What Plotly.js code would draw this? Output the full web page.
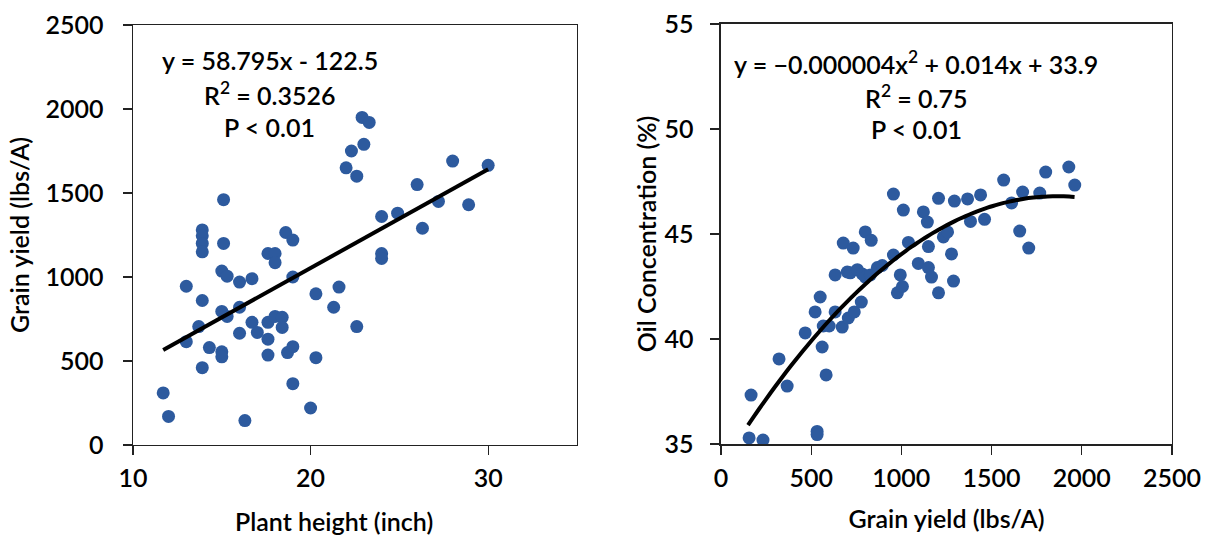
<!DOCTYPE html>
<html>
<head>
<meta charset="utf-8">
<script src="https://cdn.plot.ly/plotly-3.0.1.min.js"></script>
<style>html,body{margin:0;padding:0;background:#fff;}#chart{width:1206px;height:538px;}</style>
</head>
<body>
<div id="chart"></div>
<script>
// Left panel: plant height (inch) vs grain yield (lbs/A)
const plantHeight = [22.9, 23.3, 23.0, 22.3, 22.0, 22.6, 28.0, 30.0, 26.0, 27.2, 28.9, 24.0, 24.9, 26.3, 24.0, 24.0,
  18.6, 19.0, 17.6, 18.0, 18.0, 16.7, 16.0, 19.0, 20.3, 21.6, 15.1, 13.9, 13.9, 13.9, 13.9, 15.1,
  15.0, 15.3, 13.0, 13.9, 15.0, 15.3, 16.0, 13.7, 13.0, 14.3, 15.0, 15.0, 16.0, 16.7, 17.0, 17.6,
  18.0, 18.4, 18.4, 17.6, 17.6, 18.7, 19.0, 21.3, 20.3, 13.9, 19.0, 11.7, 12.0, 16.3, 20.0, 22.6];
const grainYieldL = [1950, 1920, 1790, 1750, 1650, 1600, 1690, 1665, 1550, 1450, 1430, 1360, 1380, 1290, 1140, 1110,
  1265, 1220, 1140, 1140, 1085, 990, 970, 1000, 900, 940, 1460, 1280, 1245, 1200, 1150, 1200,
  1035, 1005, 945, 860, 795, 765, 820, 705, 615, 580, 555, 525, 665, 730, 670, 730,
  765, 760, 700, 630, 535, 550, 585, 820, 520, 460, 365, 310, 170, 145, 220, 705];

// Right panel: grain yield (lbs/A) vs oil concentration (%)
const grainYieldR = [167, 156, 233, 533, 533, 322, 367, 467, 522, 550, 561, 583, 567, 600, 633, 672, 706, 739, 778,
  633, 678, 733, 700, 717, 756, 783, 800, 828, 867, 894, 956, 994, 978, 1006, 1039, 1094, 1150, 1150, 1167,
  1206, 1278, 1289, 800, 833, 1233, 1256, 956, 1011, 1122, 1144, 1206, 1294, 1367, 1439, 1567, 1672, 1767,
  1800, 1928, 1961, 1611, 1383, 1461, 1656, 1706];
const oilConc = [37.33, 35.29, 35.19, 35.6, 35.45, 39.05, 37.76, 40.29, 41.29, 42.0, 39.62, 38.29, 40.62, 40.62, 41.29, 40.57, 41.0, 41.29, 41.76,
  43.05, 44.57, 44.33, 43.19, 43.15, 43.3, 43.1, 42.95, 43.05, 43.4, 43.5, 44.0, 43.05, 42.2, 42.5, 44.6, 43.6, 44.4, 43.4, 42.95,
  42.2, 44.05, 42.76, 45.1, 44.7, 44.86, 45.1, 46.9, 46.14, 46.05, 45.57, 46.7, 46.57, 46.67, 46.86, 47.57, 47.0, 46.95,
  47.95, 48.19, 47.33, 46.48, 45.6, 45.7, 45.14, 44.33];

// Trendline coefficients (as fitted in the figure)
const linCoef = [-122.5, 58.795];           // intercept, slope
const linSpan = [11.7, 30];
const quadCoef = [33.904, 0.013863, -0.000003726]; // c0, c1, c2
const quadSpan = [150, 1960];

const leftLabels = ['y = 58.795x - 122.5', 'R<sup>2</sup> = 0.3526', 'P < 0.01'];
const rightLabels = ['y = \u22120.000004x<sup>2</sup> + 0.014x + 33.9', 'R<sup>2</sup> = 0.75', 'P < 0.01'];
const leftXTitle = 'Plant height (inch)';

const linX = linSpan.slice();
const linY = linX.map(x => linCoef[0] + linCoef[1] * x);
const quadX = [];
for (let i = 0; i <= 60; i++) quadX.push(quadSpan[0] + (quadSpan[1] - quadSpan[0]) * i / 60);
const quadY = quadX.map(x => quadCoef[0] + quadCoef[1] * x + quadCoef[2] * x * x);

const FONT = 'Lato, "Open Sans", sans-serif';
const dotColor = '#2D5A9E';
const marker = {color: dotColor, size: 13, line: {width: 0}};

const traces = [
  {x: plantHeight, y: grainYieldL, type: 'scatter', mode: 'markers', marker: marker, xaxis: 'x', yaxis: 'y'},
  {x: linX, y: linY, type: 'scatter', mode: 'lines', line: {color: '#000', width: 4}, xaxis: 'x', yaxis: 'y'},
  {x: grainYieldR, y: oilConc, type: 'scatter', mode: 'markers', marker: marker, xaxis: 'x2', yaxis: 'y2'},
  {x: quadX, y: quadY, type: 'scatter', mode: 'lines', line: {color: '#000', width: 4, shape: 'spline'}, xaxis: 'x2', yaxis: 'y2'}
];

const tickFont = {family: FONT, size: 25, color: '#000', weight: 600};
const titleFont = {family: FONT, size: 25, color: '#000', weight: 600};
const annFont = {family: FONT, size: 25, color: '#000', weight: 600};

const axisBase = {
  showline: true, linecolor: '#222', linewidth: 1.5, mirror: true,
  showgrid: false, zeroline: false,
  ticks: 'outside', ticklen: 9, tickwidth: 1.2, tickcolor: '#222',
  tickfont: tickFont,
  fixedrange: true
};

const layout = {
  width: 1206, height: 538,
  margin: {l: 0, r: 0, t: 0, b: 0},
  paper_bgcolor: '#fff', plot_bgcolor: '#fff',
  showlegend: false,
  xaxis: Object.assign({}, axisBase, {domain: [0.1103, 0.4784], range: [10, 35], tickvals: [10, 20, 30], ticklabelstandoff: 2, anchor: 'y'}),
  yaxis: Object.assign({}, axisBase, {domain: [0.1729, 0.9535], range: [0, 2500], dtick: 500, ticklabelstandoff: 14,
    title: {text: 'Grain yield (lbs/A)', font: titleFont, standoff: 8}, anchor: 'x'}),
  xaxis2: Object.assign({}, axisBase, {domain: [0.5978, 0.9718], range: [0, 2500], dtick: 500, ticklabelstandoff: 2,
    title: {text: 'Grain yield (lbs/A)', font: titleFont, standoff: 20}, anchor: 'y2'}),
  yaxis2: Object.assign({}, axisBase, {domain: [0.1747, 0.9554], range: [35, 55], dtick: 5, ticklabelstandoff: 12,
    title: {text: 'Oil Concentration (%)', font: titleFont, standoff: 0}, anchor: 'x2'}),
  annotations: [
    {xref: 'paper', yref: 'paper', x: 334 / 1206, y: 1 - 521 / 538, text: leftXTitle, showarrow: false,
      font: titleFont, xanchor: 'center', yanchor: 'middle'}
  ]
};

const leftY = [2293, 2090, 1892];
leftLabels.forEach((t, i) => layout.annotations.push({xref: 'x', yref: 'y', x: 17.7, y: leftY[i], text: t, showarrow: false,
  font: annFont, xanchor: 'center', yanchor: 'middle'}));
const rightY = [53.19, 51.57, 50.0];
rightLabels.forEach((t, i) => layout.annotations.push({xref: 'x2', yref: 'y2', x: 1083, y: rightY[i], text: t, showarrow: false,
  font: annFont, xanchor: 'center', yanchor: 'middle'}));

Plotly.newPlot('chart', traces, layout, {displayModeBar: false, staticPlot: true});
</script>
</body>
</html>
